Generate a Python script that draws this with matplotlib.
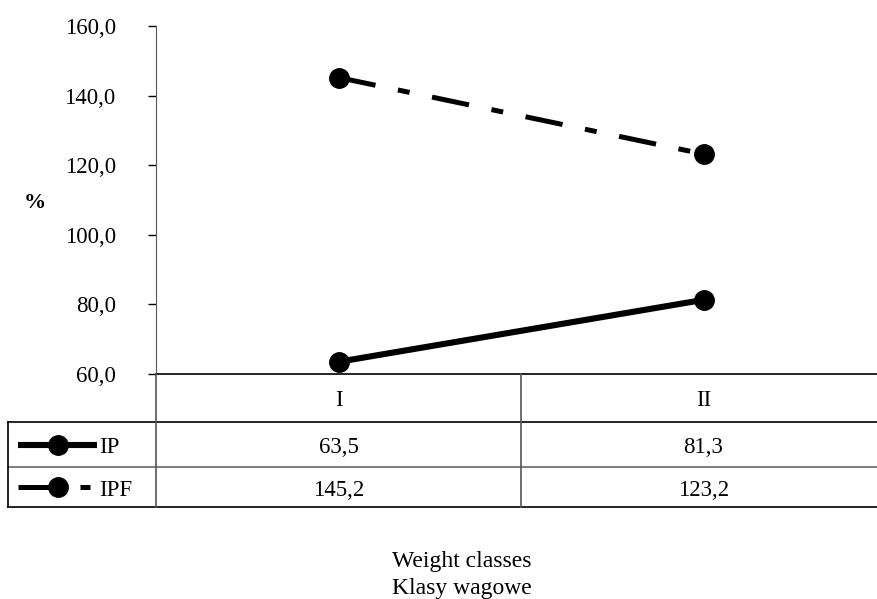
import matplotlib

matplotlib.use("Agg")

import matplotlib.pyplot as plt

categories = ["I", "II"]
series_names = ["IP", "IPF"]
ip_values = [63.5, 81.3]
ipf_values = [145.2, 123.2]
y_ticks = [60, 80, 100, 120, 140, 160]

plt.rcParams["font.family"] = ["Liberation Serif", "DejaVu Serif"]
plt.rcParams["lines.scale_dashes"] = False

W, H = 877, 599
fig = plt.figure(figsize=(W / 100, H / 100), dpi=100, facecolor="white")

# layout in pixels
ax_left, ax_right, ax_top, ax_bottom = 156, 886, 26, 374
tbl_left, tbl_rows = 8, [374, 422, 467, 507]
FS = 16.5


def fx(px):
    return px / W


def fy(py):
    return 1 - py / H


ax = fig.add_axes([fx(ax_left), fy(ax_bottom), fx(ax_right - ax_left), (ax_bottom - ax_top) / H])
ax.set_xlim(-0.5, len(categories) - 0.5)
ax.set_ylim(60, 160)
xs = list(range(len(categories)))

ax.plot(xs, ip_values, color="black", lw=4.4, marker="o", ms=14, solid_capstyle="butt")
ax.plot(xs, ipf_values, color="black", lw=3.6, marker="o", ms=14,
        dashes=(27.2, 16.5, 8.6, 16.5), dash_capstyle="butt")

ax.set_yticks(y_ticks)
ax.set_yticklabels([f"{v:.1f}".replace(".", ",") for v in y_ticks], fontsize=FS)
ax.tick_params(axis="y", direction="out", length=6, width=1, pad=23)
ax.set_xticks([])
for s in ["top", "right"]:
    ax.spines[s].set_visible(False)
ax.spines["left"].set_color("#555555")
ax.spines["bottom"].set_color("black")
ax.spines["bottom"].set_linewidth(1.2)

fig.text(fx(35), fy(203), "%", fontsize=16, fontweight="bold", ha="center", va="center")

# table below the plot
tab = fig.add_axes([0, 0, 1, 1])
tab.set_xlim(0, W)
tab.set_ylim(H, 0)
tab.axis("off")

col_w = (ax_right - ax_left) / len(categories)
centers = [ax_left + col_w * (i + 0.5) for i in range(len(categories))]
dividers = [ax_left + col_w * i for i in range(1, len(categories))]

tab.plot([tbl_left, W], [tbl_rows[1]] * 2, color="black", lw=1.2)
tab.plot([tbl_left, W], [tbl_rows[2]] * 2, color="#666666", lw=1.2)
tab.plot([tbl_left, W], [tbl_rows[3]] * 2, color="black", lw=1.2)
tab.plot([tbl_left, tbl_left], [tbl_rows[1], tbl_rows[3]], color="black", lw=1.2)
tab.plot([ax_left, ax_left], [tbl_rows[0], tbl_rows[3]], color="#555555", lw=1.2)
for d in dividers:
    tab.plot([d, d], [tbl_rows[0], tbl_rows[3]], color="#555555", lw=1.2)

for c, lab in zip(centers, categories):
    tab.text(c, (tbl_rows[0] + tbl_rows[1]) / 2 + 3, lab, fontsize=FS, ha="center", va="center")

rows = [ip_values, ipf_values]
for r, (name, vals) in enumerate(zip(series_names, rows)):
    yc = (tbl_rows[r + 1] + tbl_rows[r + 2]) / 2
    for c, v in zip(centers, vals):
        tab.text(c, yc + 3, f"{v:.1f}".replace(".", ","), fontsize=FS, ha="center", va="center")
    tab.text(99, yc + 3, name, fontsize=FS, ha="left", va="center")
    if r == 0:
        tab.plot([18, 97], [yc, yc], color="black", lw=4.4, solid_capstyle="butt")
    else:
        tab.plot([18, 58], [yc, yc], color="black", lw=3.6, solid_capstyle="butt")
        tab.plot([80, 90], [yc, yc], color="black", lw=3.6, solid_capstyle="butt")
    tab.plot([58], [yc], marker="o", ms=14, color="black")

fig.text(fx(462), fy(567), "Weight classes", fontsize=17, ha="center", va="baseline")
fig.text(fx(462), fy(594), "Klasy wagowe", fontsize=17, ha="center", va="baseline")

fig.savefig("out.png", dpi=100, facecolor="white")
